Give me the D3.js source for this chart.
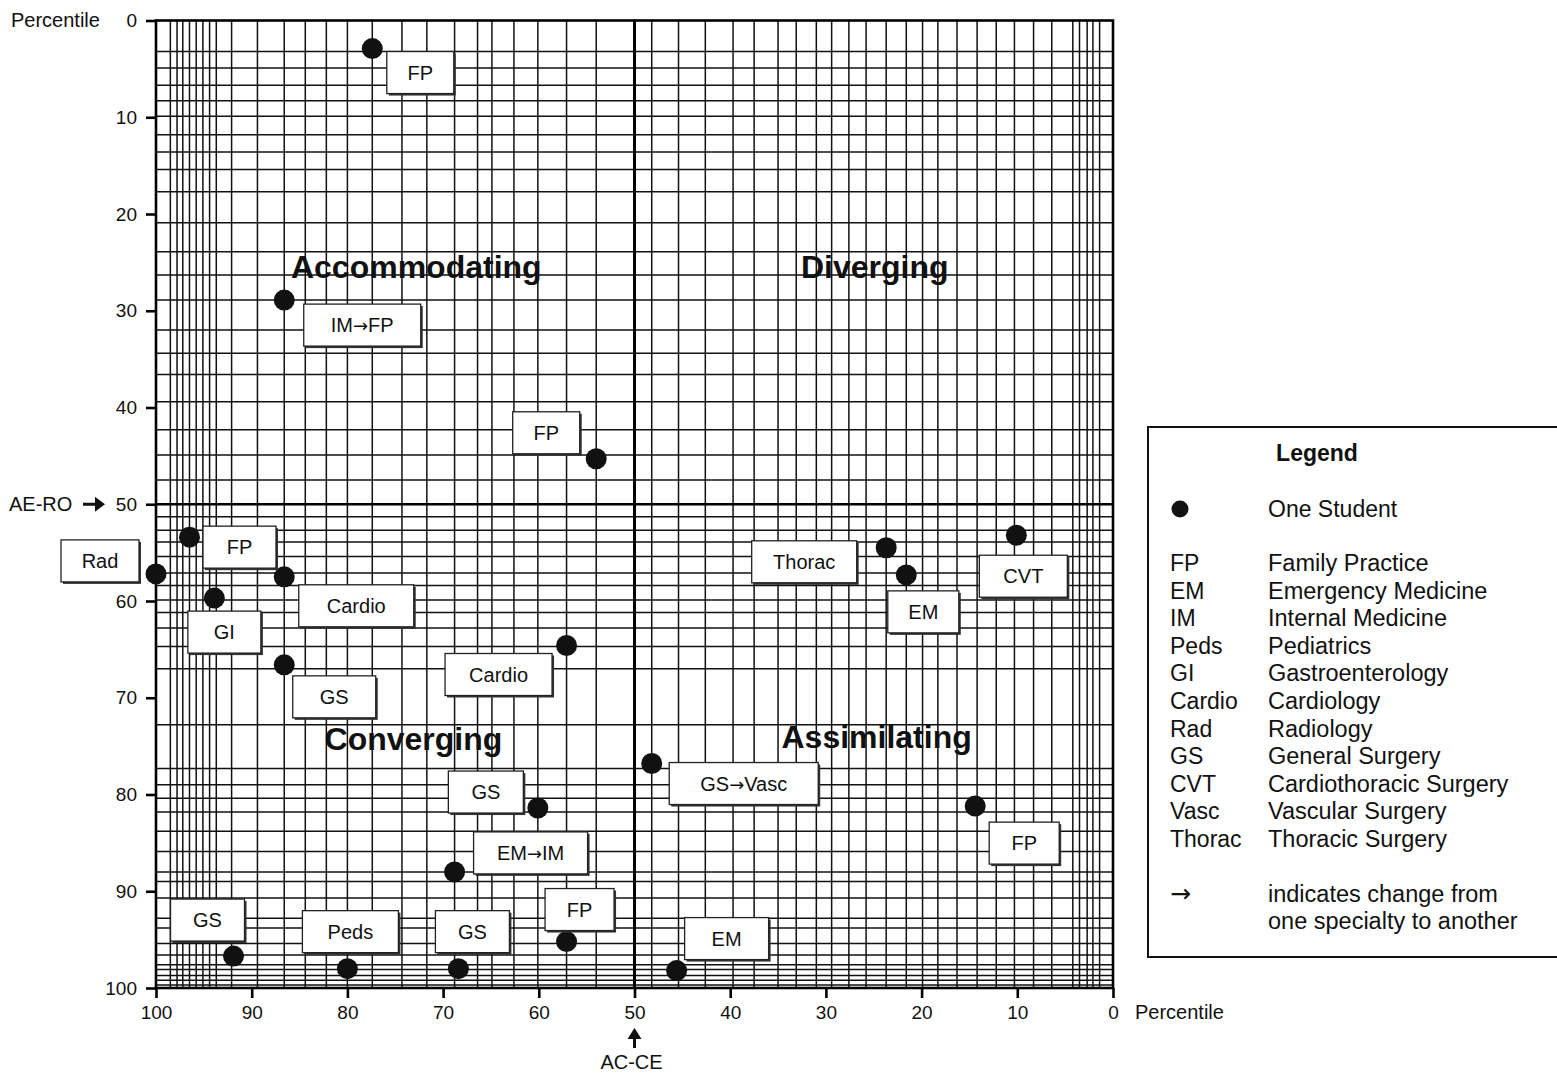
<!DOCTYPE html>
<html>
<head>
  <meta charset="utf-8">
  <title>Learning styles by specialty</title>
  <script src="https://d3js.org/d3.v7.min.js"></script>
  <style>
    body { margin: 0; background: #fff; }
    text { font-family: "Liberation Sans", Arial, Helvetica, sans-serif; fill: #111; }
    .arr { font-family: "DejaVu Sans", sans-serif; }
  </style>
</head>
<body>
  <div id="chart"></div>

  <script type="text/javascript">

    // ---- data ----
    // percentile positions of the (irregular) raw-score grid lines
    var gridX = [98.5, 97.8, 97.2, 96.5, 95.8, 95.1, 94.4, 93.7, 92.1, 89.4, 86.6, 84.4, 82.2, 80.0,
                 77.4, 74.3, 71.7, 68.8, 66.4, 64.9, 62.6, 60.1, 57.1, 54.0, 48.2, 45.4, 42.6, 39.7,
                 37.5, 35.0, 33.1, 31.0, 29.4, 27.6, 25.8, 23.7, 21.6, 19.9, 18.3, 16.3, 14.2, 12.2,
                 10.3, 8.3, 6.4, 4.2, 3.5, 2.7, 2.1, 1.4];
    var gridY = [3.2, 4.9, 6.7, 8.3, 9.9, 11.8, 13.6, 15.4, 17.7, 20.9, 23.9, 26.3, 28.9, 32.0, 34.4,
                 36.6, 39.4, 42.3, 44.9, 47.5, 51.3, 52.7, 53.9, 55.4, 57.1, 58.4, 59.9, 61.2, 62.8,
                 64.7, 67.0, 72.8, 77.3, 79.0, 80.4, 81.8, 83.8, 85.9, 88.0, 89.0, 90.7, 92.8, 93.8,
                 95.4, 96.6, 97.6, 98.1, 98.7, 99.2, 99.7];

    // one student per point: AC-CE percentile (x), AE-RO percentile (y), specialty label
    var studentX = [77.4, 86.6, 54.0, 96.5, 100, 93.9, 86.6, 86.6, 57.1, 48.2, 60.1, 68.8, 57.1,
                    91.9, 80.0, 68.4, 45.6, 23.7, 21.6, 10.1, 14.4];
    var studentY = [2.9, 28.9, 45.3, 53.4, 57.2, 59.7, 57.5, 66.6, 64.6, 76.8, 81.4, 88.0, 95.2,
                    96.7, 98.0, 98.0, 98.2, 54.5, 57.3, 53.2, 81.2];
    var specialty = ['FP', 'IM\u2192FP', 'FP', 'FP', 'Rad', 'GI', 'Cardio', 'GS', 'Cardio', 'GS\u2192Vasc',
                     'GS', 'EM\u2192IM', 'FP', 'GS', 'Peds', 'GS', 'EM', 'Thorac', 'EM', 'CVT', 'FP'];

    var xTicks = [100, 90, 80, 70, 60, 50, 40, 30, 20, 10, 0];
    var yTicks = [0, 10, 20, 30, 40, 50, 60, 70, 80, 90, 100];

    var quadrants = ['Accommodating', 'Diverging', 'Converging', 'Assimilating'];
    var quadrantX = [72.8, 24.9, 73.1, 24.7];
    var quadrantY = [25.5, 25.5, 74.3, 74.1];

    var legendAbbr = ['FP', 'EM', 'IM', 'Peds', 'GI', 'Cardio', 'Rad', 'GS', 'CVT', 'Vasc', 'Thorac'];
    var legendName = ['Family Practice', 'Emergency Medicine', 'Internal Medicine', 'Pediatrics',
                      'Gastroenterology', 'Cardiology', 'Radiology', 'General Surgery',
                      'Cardiothoracic Surgery', 'Vascular Surgery', 'Thoracic Surgery'];

    // ---- layout of the label boxes (offset of box centre from the dot, box width) ----
    var boxDx = [48, 78, -50, 50, -56, 10, 72, 50, -68, 92, -52, 76, 13, -26, 3, 14, 50, -82, 17, 7, 49];
    var boxDy = [24, 25, -26, 10, -13, 34, 29, 32, 29, 20, -16, -19, -32, -36, -37, -37, -32, 14, 37, 41, 37];
    var boxW  = [67, 117, 67, 73, 78, 73, 115, 83, 107, 149, 75, 114, 69, 74, 96, 74, 84, 105, 71, 88, 70];
    var boxH = 42;

    var W = 1557, H = 1075;
    var x = d3.scaleLinear().domain([100, 0]).range([156, 1113]);
    var y = d3.scaleLinear().domain([0, 100]).range([20.5, 988]);

    var svg = d3.select('#chart').append('svg')
                .attr('width', W)
                .attr('height', H);

    // grid
    var grid = svg.append('g').attr('stroke', '#111').attr('stroke-width', 1.5);
    grid.selectAll('.gx').data(gridX).enter().append('line')
        .attr('class', 'gx')
        .attr('x1', function(d) { return x(d); }).attr('x2', function(d) { return x(d); })
        .attr('y1', y(0)).attr('y2', y(100));
    grid.selectAll('.gy').data(gridY).enter().append('line')
        .attr('class', 'gy')
        .attr('y1', function(d) { return y(d); }).attr('y2', function(d) { return y(d); })
        .attr('x1', x(100)).attr('x2', x(0));

    // centre lines at the 50th percentile
    svg.append('line').attr('x1', x(50)).attr('x2', x(50)).attr('y1', y(0)).attr('y2', y(100))
       .attr('stroke', '#000').attr('stroke-width', 3);
    svg.append('line').attr('y1', y(50)).attr('y2', y(50)).attr('x1', x(100)).attr('x2', x(0))
       .attr('stroke', '#000').attr('stroke-width', 2.6);

    // frame
    svg.append('rect')
       .attr('x', x(100)).attr('y', y(0))
       .attr('width', x(0) - x(100)).attr('height', y(100) - y(0))
       .attr('fill', 'none').attr('stroke', '#000').attr('stroke-width', 2.6);

    // axes
    var yAxis = svg.append('g')
                   .attr('transform', 'translate(' + x(100) + ',0)')
                   .call(d3.axisLeft(y).tickValues(yTicks).tickSize(10).tickPadding(9));
    var xAxis = svg.append('g')
                   .attr('transform', 'translate(0,' + y(100) + ')')
                   .call(d3.axisBottom(x).tickValues(xTicks).tickSize(10).tickPadding(8));
    [xAxis, yAxis].forEach(function(a) {
      a.select('.domain').remove();
      a.selectAll('.tick line').attr('stroke', '#000').attr('stroke-width', 2.6);
      a.selectAll('.tick text')
       .style('font-family', '"Liberation Sans", Arial, sans-serif')
       .style('font-size', '19px').attr('fill', '#111');
    });

    svg.append('text').text('Percentile')
       .attr('x', 11).attr('y', 27).style('font-size', '20px');
    svg.append('text').text('Percentile')
       .attr('x', 1135).attr('y', 1019).style('font-size', '20px');

    // AE-RO marker
    svg.append('text').text('AE-RO')
       .attr('x', 9).attr('y', y(50) + 7).style('font-size', '20px');
    svg.append('path')
       .attr('d', 'M83,' + (y(50) - 1.5) + 'h12v-6l10,7.5l-10,7.5v-6h-12z')
       .attr('fill', '#111');

    // AC-CE marker
    svg.append('path')
       .attr('d', 'M' + (x(50) - 1.5) + ',1048v-9h-5.5l7,-11l7,11h-5.5v9z')
       .attr('fill', '#111');
    svg.append('text').text('AC-CE')
       .attr('x', x(50) - 3).attr('y', 1069)
       .attr('text-anchor', 'middle').style('font-size', '20px');

    // quadrant names
    svg.selectAll('.quad').data(quadrants).enter().append('text')
       .attr('class', 'quad')
       .attr('x', function(d, i) { return x(quadrantX[i]); })
       .attr('y', function(d, i) { return y(quadrantY[i]) + 11; })
       .attr('text-anchor', 'middle')
       .style('font-size', '32px').style('font-weight', 'bold')
       .text(function(d) { return d; });

    // students
    svg.selectAll('.dot').data(studentX).enter().append('circle')
       .attr('class', 'dot')
       .attr('cx', function(d) { return x(d); })
       .attr('cy', function(d, i) { return y(studentY[i]); })
       .attr('r', 10.5)
       .attr('fill', '#111');

    // specialty boxes
    var boxes = svg.selectAll('.lab').data(specialty).enter().append('g')
       .attr('class', 'lab')
       .attr('transform', function(d, i) {
         return 'translate(' + (x(studentX[i]) + boxDx[i]) + ',' + (y(studentY[i]) + boxDy[i]) + ')';
       });
    boxes.append('rect')
       .attr('x', function(d, i) { return -boxW[i] / 2 + 2; })
       .attr('y', -boxH / 2 + 2)
       .attr('width', function(d, i) { return boxW[i]; })
       .attr('height', boxH)
       .attr('fill', '#333');
    boxes.append('rect')
       .attr('x', function(d, i) { return -boxW[i] / 2; })
       .attr('y', -boxH / 2)
       .attr('width', function(d, i) { return boxW[i]; })
       .attr('height', boxH)
       .attr('fill', '#fff').attr('stroke', '#222').attr('stroke-width', 1.3);
    var boxText = boxes.append('text')
       .attr('text-anchor', 'middle').attr('y', 7)
       .style('font-size', '20px');
    // change of specialty: draw the arrow with a font whose arrow sits at mid height
    boxText.each(function(d) {
      var parts = d.split('\u2192');
      var t = d3.select(this);
      t.append('tspan').text(parts[0]);
      if (parts.length > 1) {
        t.append('tspan').attr('class', 'arr').style('font-size', '18px').text('\u2192');
        t.append('tspan').text(parts[1]);
      }
    });

    // legend
    var lg = svg.append('g');
    lg.append('rect')
      .attr('x', 1148).attr('y', 427).attr('width', 430).attr('height', 530)
      .attr('fill', '#fff').attr('stroke', '#111').attr('stroke-width', 2);
    lg.append('text').text('Legend')
      .attr('x', 1317).attr('y', 461).attr('text-anchor', 'middle')
      .style('font-size', '23px').style('font-weight', 'bold');
    lg.append('circle').attr('cx', 1180).attr('cy', 509).attr('r', 8.5).attr('fill', '#111');
    lg.append('text').text('One Student')
      .attr('x', 1268).attr('y', 517).style('font-size', '23px');
    lg.selectAll('.abbr').data(legendAbbr).enter().append('text')
      .attr('class', 'abbr')
      .attr('x', 1170).attr('y', function(d, i) { return 571 + i * 27.6; })
      .style('font-size', '23px')
      .text(function(d) { return d; });
    lg.selectAll('.name').data(legendName).enter().append('text')
      .attr('class', 'name')
      .attr('x', 1268).attr('y', function(d, i) { return 571 + i * 27.6; })
      .style('font-size', '23.5px')
      .text(function(d) { return d; });
    lg.append('text').text('\u2192').attr('class', 'arr')
      .attr('x', 1170).attr('y', 902).style('font-size', '25px');
    lg.append('text').text('indicates change from')
      .attr('x', 1268).attr('y', 902).style('font-size', '23.5px');
    lg.append('text').text('one specialty to another')
      .attr('x', 1268).attr('y', 929).style('font-size', '23.5px');

  </script>
</body>
</html>
